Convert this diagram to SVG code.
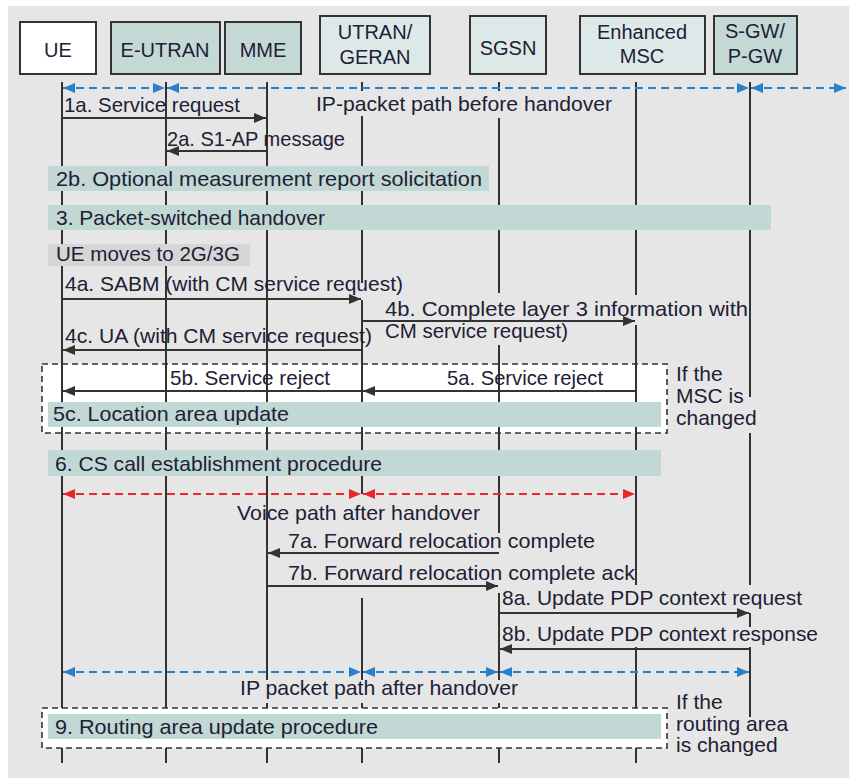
<svg xmlns="http://www.w3.org/2000/svg" width="849" height="778" viewBox="0 0 849 778">
  <defs>
    <style>
      text { font-family: "Liberation Sans", Arial, sans-serif; font-size: 21px; fill: #1e2035; }
      .hdr { text-anchor: middle; font-size: 20px; }
      .fit { lengthAdjust: spacingAndGlyphs; }
      .box-dk { fill: #c4d9d5; stroke: #333; stroke-width: 2; }
      .box-lt { fill: #dde9e8; stroke: #333; stroke-width: 2; }
      .box-w { fill: #ffffff; stroke: #333; stroke-width: 2; }
      .life { stroke: #333; stroke-width: 2; fill: none; }
      .bar { fill: #c2d8d4; }
      .bar-grey { fill: #d6d6d6; }
      .frame { fill: #ffffff; stroke: #333; stroke-width: 1.6; stroke-dasharray: 6 4; }
      .msg { stroke: #333; stroke-width: 1.8; fill: none; marker-end: url(#ah); }
      .ip { stroke: #2a80c8; stroke-width: 2; stroke-dasharray: 8 5; fill: none; marker-start: url(#ahb); marker-end: url(#ahb); }
      .voice { stroke: #e8282c; stroke-width: 2; stroke-dasharray: 8 5; fill: none; marker-start: url(#ahr); marker-end: url(#ahr); }
    </style>
    <marker id="ah" viewBox="0 0 12 10" refX="12" refY="5" markerWidth="12" markerHeight="10" markerUnits="userSpaceOnUse" orient="auto-start-reverse">
      <path d="M0,0 L12,5 L0,10 z" fill="#333"/>
    </marker>
    <marker id="ahb" viewBox="0 0 12 10" refX="12" refY="5" markerWidth="12" markerHeight="10" markerUnits="userSpaceOnUse" orient="auto-start-reverse">
      <path d="M0,0 L12,5 L0,10 z" fill="#2a80c8"/>
    </marker>
    <marker id="ahr" viewBox="0 0 12 10" refX="12" refY="5" markerWidth="12" markerHeight="10" markerUnits="userSpaceOnUse" orient="auto-start-reverse">
      <path d="M0,0 L12,5 L0,10 z" fill="#e8282c"/>
    </marker>
  </defs>

  <!-- page -->
  <rect x="0" y="0" width="849" height="778" fill="#ffffff"/>
  <rect x="8" y="6" width="841" height="772" fill="#e6e6e6"/>

  <!-- conditional frames -->
  <g id="frame-msc">
    <rect class="frame" x="42" y="364" width="625" height="69"/>
  </g>
  <g id="frame-ra">
    <rect class="frame" x="42" y="708" width="625" height="40"/>
  </g>

  <!-- participants with lifelines -->
  <g id="ue">
    <rect class="box-w" x="20" y="22" width="76" height="52"/>
    <text class="hdr" x="58" y="57">UE</text>
    <path class="life" d="M62,82 V708 M62,748 V763"/>
  </g>
  <g id="eutran">
    <rect class="box-dk" x="111" y="22" width="109" height="52"/>
    <text class="hdr" x="165" y="57">E-UTRAN</text>
    <path class="life" d="M166,82 V708 M166,748 V763"/>
  </g>
  <g id="mme">
    <rect class="box-dk" x="225" y="22" width="76" height="52"/>
    <text class="hdr" x="263" y="57">MME</text>
    <path class="life" d="M267,82 V680 M267,703 V708 M267,748 V763"/>
  </g>
  <g id="utran-geran">
    <rect class="box-lt" x="320" y="16" width="110" height="58"/>
    <text class="hdr" x="375" y="39">UTRAN/</text>
    <text class="hdr" x="375" y="64">GERAN</text>
    <path class="life" d="M362,82 V91 M362,116 V283 M362,300 V494 M362,598 V680 M362,703 V708 M362,748 V763"/>
  </g>
  <g id="sgsn">
    <rect class="box-lt" x="470" y="16" width="76" height="58"/>
    <text class="hdr" x="508" y="55">SGSN</text>
    <path class="life" d="M499,82 V91 M499,118 V293 M499,345 V533 M499,593 V680 M499,703 V708 M499,748 V763"/>
  </g>
  <g id="enhanced-msc">
    <rect class="box-lt" x="580" y="16" width="125" height="58"/>
    <text class="hdr" x="642" y="39">Enhanced</text>
    <text class="hdr" x="642" y="63">MSC</text>
    <path class="life" d="M636,82 V295 M636,325 V585 M636,647 V708 M636,748 V763"/>
  </g>
  <g id="sgw-pgw">
    <rect class="box-dk" x="714" y="16" width="83" height="58"/>
    <text class="hdr" x="755" y="38">S-GW/</text>
    <text class="hdr" x="755" y="63">P-GW</text>
    <path class="life" d="M750,82 V397 M750,433 V585 M750,613 V627 M750,647 V717"/>
  </g>

  <!-- procedure bars -->
  <g id="step-2b">
    <rect class="bar" x="48" y="166" width="441" height="25"/>
    <text x="56" y="186" textLength="426" lengthAdjust="spacingAndGlyphs">2b. Optional measurement report solicitation</text>
  </g>
  <g id="step-3">
    <rect class="bar" x="48" y="205" width="723" height="25"/>
    <text x="56" y="225" textLength="269" lengthAdjust="spacingAndGlyphs">3. Packet-switched handover</text>
  </g>
  <g id="ue-moves">
    <rect class="bar-grey" x="48" y="244" width="202" height="22"/>
    <text x="56" y="261" textLength="184" lengthAdjust="spacingAndGlyphs">UE moves to 2G/3G</text>
  </g>
  <g id="step-5c">
    <rect class="bar" x="48" y="402" width="613" height="25"/>
    <text x="53" y="421" textLength="236" lengthAdjust="spacingAndGlyphs">5c. Location area update</text>
  </g>
  <g id="step-6">
    <rect class="bar" x="48" y="450" width="613" height="26"/>
    <text x="55" y="471" textLength="327" lengthAdjust="spacingAndGlyphs">6. CS call establishment procedure</text>
  </g>
  <g id="step-9">
    <rect class="bar" x="48" y="714" width="613" height="25"/>
    <text x="55" y="734" textLength="323" lengthAdjust="spacingAndGlyphs">9. Routing area update procedure</text>
  </g>

  <!-- messages and bearer paths -->
  <g id="connectors">
    <line class="ip" x1="63" y1="88" x2="165" y2="88"/>
    <line class="ip" x1="167" y1="88" x2="749" y2="88"/>
    <line class="ip" x1="751" y1="88" x2="846" y2="88"/>

    <line class="msg" x1="62" y1="118" x2="266" y2="118"/>
    <line class="msg" x1="267" y1="151" x2="167" y2="151"/>
    <line class="msg" x1="62" y1="299" x2="361" y2="299"/>
    <line class="msg" x1="362" y1="321" x2="635" y2="321"/>
    <line class="msg" x1="362" y1="350" x2="63" y2="350"/>
    <line class="msg" x1="362" y1="391" x2="63" y2="391"/>
    <line class="msg" x1="636" y1="391" x2="363" y2="391"/>

    <line class="voice" x1="63" y1="494" x2="361" y2="494"/>
    <line class="voice" x1="363" y1="494" x2="635" y2="494"/>

    <line class="msg" x1="499" y1="553" x2="268" y2="553"/>
    <line class="msg" x1="267" y1="586" x2="498" y2="586"/>
    <line class="msg" x1="499" y1="613" x2="749" y2="613"/>
    <line class="msg" x1="750" y1="649" x2="500" y2="649"/>

    <line class="ip" x1="63" y1="672" x2="361" y2="672"/>
    <line class="ip" x1="363" y1="672" x2="498" y2="672"/>
    <line class="ip" x1="500" y1="672" x2="749" y2="672"/>
  </g>

  <!-- message labels -->
  <g id="labels">
    <text x="64" y="112" textLength="176" lengthAdjust="spacingAndGlyphs">1a. Service request</text>
    <text x="316" y="111" textLength="296" lengthAdjust="spacingAndGlyphs">IP-packet path before handover</text>
    <text x="167" y="146" textLength="178" lengthAdjust="spacingAndGlyphs">2a. S1-AP message</text>
    <text x="65" y="291" textLength="338" lengthAdjust="spacingAndGlyphs">4a. SABM (with CM service request)</text>
    <text x="385" y="316" textLength="363" lengthAdjust="spacingAndGlyphs">4b. Complete layer 3 information with</text>
    <text x="385" y="338" textLength="183" lengthAdjust="spacingAndGlyphs">CM service request)</text>
    <text x="65" y="343" textLength="307" lengthAdjust="spacingAndGlyphs">4c. UA (with CM service request)</text>
    <text x="170" y="385" textLength="160" lengthAdjust="spacingAndGlyphs">5b. Service reject</text>
    <text x="447" y="385" textLength="156" lengthAdjust="spacingAndGlyphs">5a. Service reject</text>
    <text x="676" y="381">If the</text>
    <text x="676" y="403">MSC is</text>
    <text x="676" y="425">changed</text>
    <text x="237" y="520" textLength="243" lengthAdjust="spacingAndGlyphs">Voice path after handover</text>
    <text x="288" y="548" textLength="307" lengthAdjust="spacingAndGlyphs">7a. Forward relocation complete</text>
    <text x="288" y="580" textLength="347" lengthAdjust="spacingAndGlyphs">7b. Forward relocation complete ack</text>
    <text x="502" y="605" textLength="300" lengthAdjust="spacingAndGlyphs">8a. Update PDP context request</text>
    <text x="502" y="641" textLength="316" lengthAdjust="spacingAndGlyphs">8b. Update PDP context response</text>
    <text x="240" y="695" textLength="278" lengthAdjust="spacingAndGlyphs">IP packet path after handover</text>
    <text x="676" y="709">If the</text>
    <text x="676" y="731">routing area</text>
    <text x="676" y="752">is changed</text>
  </g>
</svg>
